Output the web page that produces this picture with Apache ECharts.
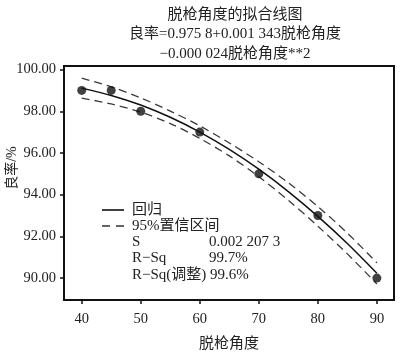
<!DOCTYPE html>
<html>
<head>
<meta charset="utf-8">
<script src="https://cdn.jsdelivr.net/npm/echarts@6/dist/echarts.min.js"></script>
<style>html,body{margin:0;padding:0;background:#fff;}#c{width:400px;height:357px;}</style>
</head>
<body>
<div id="c"></div>
<script>
// Observed data (脱枪角度, 良率 %)
const obsAngle = [40, 45, 50, 60, 70, 80, 90];
const obsRate = [99.0, 99.0, 98.0, 97.0, 95.0, 93.0, 90.0];
// Fitted curve and 95% confidence band
const fitAngle = [40, 45, 50, 55, 60, 65, 70, 75, 80, 85, 90];
const fitRate  = [99.11, 98.76, 98.30, 97.71, 97.00, 96.17, 95.22, 94.15, 92.96, 91.66, 90.23];
const ciUpper  = [99.59, 99.17, 98.64, 98.01, 97.30, 96.48, 95.58, 94.57, 93.43, 92.16, 90.73];
const ciLower  = [98.63, 98.35, 97.96, 97.41, 96.70, 95.86, 94.86, 93.73, 92.49, 91.16, 89.72];
const xTicks = [40, 50, 60, 70, 80, 90];
const yTicks = [90, 92, 94, 96, 98, 100];
const titleLines = ['脱枪角度的拟合线图', '良率=0.975 8+0.001 343脱枪角度', '−0.000 024脱枪角度**2'];
const statsRows = [['S', '0.002 207 3'], ['R−Sq', '99.7%'], ['R−Sq(调整)', '99.6%']];

const FF = "'Liberation Serif', 'Noto Sans CJK SC', serif";
const pair = (xs, ys) => xs.map((x, i) => [x, ys[i]]);

const chart = echarts.init(document.getElementById('c'), null, {renderer: 'canvas'});
const graphics = [
  {type: 'text', x: 12, y: 168, rotation: Math.PI / 2,
   style: {text: '良率/%', font: "14px " + FF, fill: '#222', textAlign: 'center', textVerticalAlign: 'middle'}},
];
// legend samples
graphics.push({type: 'line', shape: {x1: 102, y1: 210, x2: 124, y2: 210}, style: {stroke: '#111', lineWidth: 1.6}});
graphics.push({type: 'line', shape: {x1: 102, y1: 226, x2: 124, y2: 226}, style: {stroke: '#333', lineWidth: 1.4, lineDash: [8, 6]}});
graphics.push({type: 'text', x: 132, y: 210, style: {text: '回归', font: "15px " + FF, fill: '#222', textVerticalAlign: 'middle'}});
graphics.push({type: 'text', x: 132, y: 226, style: {text: '95%置信区间', font: "15px " + FF, fill: '#222', textVerticalAlign: 'middle'}});
statsRows.forEach((r, i) => {
  const y = 242 + i * 16.5;
  if (i < 2) {
    graphics.push({type: 'text', x: 132, y: y, style: {text: r[0], font: "15px " + FF, fill: '#222', textVerticalAlign: 'middle'}});
    graphics.push({type: 'text', x: 209, y: y, style: {text: r[1], font: "15px " + FF, fill: '#222', textVerticalAlign: 'middle'}});
  } else {
    graphics.push({type: 'text', x: 132, y: y, style: {text: r[0] + ' ' + r[1], font: "15px " + FF, fill: '#222', textVerticalAlign: 'middle'}});
  }
});

chart.setOption({
  animation: false,
  backgroundColor: '#fff',
  title: {
    text: titleLines.join('\n'),
    left: 230, top: 0, textAlign: 'center',
    textStyle: {fontFamily: FF, fontSize: 15, fontWeight: 'normal', color: '#222', lineHeight: 19.5}
  },
  grid: {left: 64, right: 6, top: 66, bottom: 56, show: true, borderColor: '#111', borderWidth: 2, backgroundColor: 'transparent'},
  xAxis: {
    type: 'value', min: 37, max: 92.9,
    name: '脱枪角度', nameLocation: 'middle', nameGap: 37,
    nameTextStyle: {fontFamily: FF, fontSize: 15, color: '#222'},
    axisLine: {show: true, onZero: false, lineStyle: {color: '#111', width: 2}},
    axisTick: {show: true, length: 4, lineStyle: {color: '#111', width: 1.5}, customValues: xTicks},
    axisLabel: {customValues: xTicks, fontFamily: FF, fontSize: 14.5, color: '#222', margin: 12},
    splitLine: {show: false}
  },
  yAxis: {
    type: 'value', min: 88.95, max: 100.17,
    axisLine: {show: true, onZero: false, lineStyle: {color: '#111', width: 2}},
    axisTick: {show: true, length: 4, lineStyle: {color: '#111', width: 1.5}, customValues: yTicks},
    axisLabel: {customValues: yTicks, fontFamily: FF, fontSize: 14.5, color: '#222', margin: 8,
      formatter: v => Number(v).toFixed(2)},
    splitLine: {show: false}
  },
  series: [
    {name: '回归', type: 'line', data: pair(fitAngle, fitRate), smooth: 0.3, symbol: 'none',
     lineStyle: {color: '#111', width: 1.5}, z: 3},
    {name: '95%置信区间', type: 'line', data: pair(fitAngle, ciUpper), smooth: 0.3, symbol: 'none',
     lineStyle: {color: '#3a3a3a', width: 1.3, type: [8, 5]}, z: 3},
    {name: '95%置信区间 ', type: 'line', data: pair(fitAngle, ciLower), smooth: 0.3, symbol: 'none',
     lineStyle: {color: '#3a3a3a', width: 1.3, type: [8, 5]}, z: 3},
    {name: '观测', type: 'scatter', data: pair(obsAngle, obsRate), symbol: 'circle', symbolSize: 9,
     itemStyle: {color: '#111'}, z: 4}
  ],
  graphic: graphics
});
</script>
</body>
</html>
